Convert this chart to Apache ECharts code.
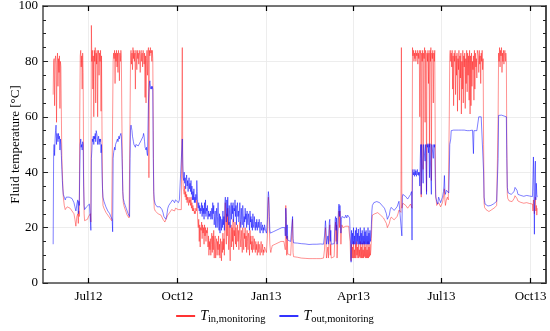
<!DOCTYPE html>
<html><head><meta charset="utf-8">
<script src="https://cdn.jsdelivr.net/npm/echarts@6/dist/echarts.min.js"></script>
<style>html,body{margin:0;padding:0;background:#fff}#c{width:550px;height:331px}</style>
</head><body><div id="c"></div>
<script>
// Day offsets are counted from 2012-05-24. Each row: [day, T_in, T_out]
const startDate = [2012, 4, 24];
const axisRange = [[2012, 4, 15], [2013, 9, 17]];
const tickLabels = ["Jul12", "Oct12", "Jan13", "Apr13", "Jul13", "Oct13"];
const tickDates = [[2012, 6, 1], [2012, 9, 1], [2013, 0, 1], [2013, 3, 1], [2013, 6, 1], [2013, 9, 1]];
const seriesNames = ["in,monitoring", "out,monitoring"];

const summer2012 = [
[1.5,68,14],[2,80,47],[2.5,81,50],[3,64,46],[3.5,80,52],[4,82,55],[4.5,79,57],[5,58,50],[5.5,80,54],[6,83,53],[6.5,71,51],[7,81,54],[7.5,76,52],[8,82,53],[8.5,63,48],[9,80,52],[9.5,78,50],[10,60,46],[10.5,45,41],[11,40,37],[11.5,35,34],[12,31,32],[13,28,31],[14,26.5,30],[15,27,31],[16,27.5,31],[17,27,31.5],[18,27.5,31],[19,27,31.5],[20,26.5,31],[21,26,30.5],[22,26.5,30],[23,25,29],[24,23,27.5],[25,20.5,26],[25.5,21,27],[26,24,28.5],[27,25,30],[27.5,21.5,25],[28,26,29.5],[28.5,24,28],
[29,60,40],[29.5,82,50],[30,84,52],[30.5,78,49],[31,82,50],[31.5,70,48],[32,83,51],[32.5,76,50],[33,40,35],[33.5,25,28],[34,22.5,26.5],[35,23,27],[36,22.5,27.5],[37,23,27],[38,24,28],[39,24.5,28.5],[40,25,29],[40.5,22,19],
[41,93,45],[41.5,80,48],[42,84,52],[42.5,70,51],[43,82,53],[43.5,60,50],[44,84,53],[44.5,80,52],[45,85,54],[45.5,65,51],[46,83,55],[46.5,79,54],[47,84,53],[47.5,60,50],[48,82,52],[48.5,84,53],[49,75,50],[49.5,83,52],[50,80,51],[50.5,84,52],[51,62,47],[51.5,82,50],[52,55,40],[52.5,35,34],[53,28,31],[54,27,29.5],[55,26.5,28.5],[56,25.5,27.5],[57,25,27],[58,24.5,26],[59,24,25.5],[60,23.5,25],[61,23,24],[62,22.5,23.5],[62.5,22,23],[63,23,18.5]
];
const autumn2012 = [
[63.5,80,45],[64,83,47],[64.5,81,48],[65,84,49],[65.5,72,48],[66,83,50],[66.5,80,50],[67,84,51],[67.5,78,51],[68,83,52],[68.5,76,51],[69,84,52],[69.5,82,53],[70,73,52],[70.5,83,53],[71,80,53],[71.5,84,54],[72,82,53],[72.5,60,48],[73,45,41],[73.5,33,33],[74,29,30.5],[75,27.5,29],[76,26.5,28],[77,25.5,27],[78,24.5,26],[79,24,25],[80,23.5,24.5],[80.5,23,24],
[81,60,45],[81.5,82,56],[82,84,57],[82.5,79,56],[83,83,55],[83.5,77,53],[84,85,52],[84.5,81,51],[85,84,50],[85.5,80,50],[86,83,50.5],[86.5,70,49],[87,84,50],[87.5,82,50.5],[88,77,50],[88.5,84,50],[89,81,50],[89.5,83,49.5],[90,79,50],[90.5,84,50],[91,82,50.5],[91.5,76,50],[92,83,51],[92.5,84,51.5],[93,80,51],[93.5,83,52],[94,78,52],[94.5,84,53],[95,82,54],[95.5,79,53],[96,83,51],[96.5,67,49],[97,82,48.5],[97.5,65,48],[98,81,49],[98.5,84,47],[99,75,46],[99.5,83,55],[100,85,65],[100.5,38,69],[101,84,72],[101.5,82,73],[102,85,71],[102.5,83,70],[103,84,71],[103.5,80,70],[104,84,71],[104.5,81,70],[105,55,45],[105.5,32,33],
[106,27,30],[107,26,28.5],[108,26,28],[109,25.5,27.5],[110,25,27.5],[111,24.5,27],[112,25,27.5],[113,24.5,27],[114,24,26.5],[115,23,25.5],[116,22.5,24],[117,22,23.5],[118,21.5,23],[119,22.5,24.5],[120,24.5,27],[121,25,28],[122,25.5,28],[123,26,29],[124,26.5,29.5],[125,27,30],[126,26.5,29.5],[127,26,29],[128,27,30],[129,26.5,29.5],[130,27,30],[131,26.5,29],[132,27,30],[133,26,29.5],[134,26.5,30],
[135,85,52],[135.5,40,43],[136,34,38],[136.5,33,37],[137,32,40],[137.5,35,36],[138,31,38],[138.5,33,34],[139,30,37],[139.5,32,39],[140,29,35],[140.5,31,37],[141,30,33],[141.5,28,36],[142,31,38],[142.5,29,34],[143,30,36],[143.5,28,33],[144,31,37],[144.5,27,32],[145,29,35],[145.5,26,30],[146,28,33],[146.5,26,30],[147,27,34],[147.5,25,29],[148,26,31],[148.5,25,29],[149,27,32],[149.5,26,30],[150,30,37],[150.5,27,33],[151,22,28],[151.5,20,27],[152,23,29],[152.5,15,26],[153,21,28],[153.5,13,25],[154,20,27],[154.5,19,26],[155,22,29],[155.5,16,24],[156,21,28],[156.5,18,25],[157,20,27],[157.5,14,23],[158,21,29],[158.5,17,25],[159,20,30],[159.5,15,24],[160,19,27],[160.5,18,26],[161,20,28],[161.5,13,23],[162,17,26],[162.5,10,24],[163,15,25],[163.5,12,24],[164,16,26],[164.5,10,23],[165,14,24],[165.5,18,27],[166,11,23],[166.5,17,29],[167,12,25],[167.5,19,28],[168,9,21],[168.5,15,24],[169,17,26],[169.5,9,20],[170,14,23],[170.5,16,27],[171,10,20],[171.5,15,24],[172,12,29],[172.5,17,22],[173,10,19],[173.5,14,25],[174,9,18],[174.5,16,24],[175,13,22],[175.5,8,19],[176,15,23],[176.5,11,20],[177,18,26],[177.5,12,21],[178,16,24],[178.5,10,19],[179,24,29],[179.5,29,31],[180,20,27],[180.5,14,22],[181,25,30],[181.5,17,24],[182,27,31],[182.5,18,25],[183,12,21],[183.5,22,28],[184,14,24],[184.5,8,20],[185,17,27],[185.5,21,29],[186,13,23],[186.5,20,28],[187,15,25],[187.5,23,29],[188,12,22],[188.5,19,27],[189,17,26],[189.5,22,30],[190,14,24],[190.5,20,28],[191,13,21],[191.5,18,27],[192,21,29],[192.5,15,24],[193,19,26],[193.5,12,22],[194,17,25],[194.5,22,29],[195,16,23],[195.5,13,20],[196,19,27],[196.5,15,23],[197,11,21],[197.5,20,28],[198,17,25],[198.5,12,20],[199,18,24],[199.5,16,22],[200,20,27],[200.5,13,23],[201,17,25],[201.5,11,20],[202,19,26],[202.5,15,22],[203,12,21],[203.5,18,25],[204,16,23],[204.5,10,19],[205,19,26],[205.5,14,22],[206,17,24],[206.5,12,20],[207,15,23],[207.5,11,19],[208,17,25],[208.5,14,21],[209,12,20],[209.5,16,24],[210,13,21],[210.5,11,19],[211,15,22],[211.5,12,20],[212,14,23],[212.5,10,19],[213,13,21],[213.5,15,22],[214,11,20],[214.5,14,23],[215,12,19],[215.5,10,18],[216,13,21],[216.5,15,22],[217,11,19],[217.5,12,20],[218,14,21],[218.5,10,18],[219,12,20],[219.5,11,19],[220,13,21],[221,12,19],[222,11,18]
];
const winter2013 = [
[223,17,23],[223.5,27,30],[224,31,33],[224.5,28,31],[225,20,24],[225.5,14,19],[226,12,18],[226.5,11,17.5],[227,12,18],[228,13.5,18],[229,13.5,18.5],[230,14,18.5],[231,14,19],[232,14,19],[233,14,19],[234,14.5,19],[235,14.5,19.5],[236,14.5,19.5],[237,15,19.5],[238,15,20],[239,15,20],[240,15,20],[241,15.5,20],[241.5,12,17],[242,28,27],[242.5,22,24],[243,10,16],[243.5,17,21],[244,10.5,15.5],[245,10.5,15],[246,10,15],[247,10,15],[248,9.5,15],[248.5,20,22],[249,23,24],[249.5,11,16],[250,9.5,14.5],[251,9.5,14.5],[252,9.5,14.5],[254,9.3,14.4],[256,9.2,14.3],[258,9,14.2],[260,9.1,14],[262,8.9,14.1],[264,8.8,14],[266,8.8,13.9],[268,8.7,14],[270,8.8,14],[272,8.7,13.9],[274,8.8,14],[276,8.7,14],[278,8.8,14.1],[280,8.9,14],[281,9,14],
[282,12,17],[283,20,22.5],[283.5,17,20],[284,9,14],[285,9,14],[285.5,13,17],[286,9,14],[287,19,22],[287.5,21,23],[288,10,15],[288.5,14,19],[289,9,14],[290,9,14],[291,9.2,14],[292,9.5,14.2],[293,20,23],[293.5,22,24],[294,15,19],[294.5,21,23.5],[295,9,14],[295.5,9.5,14],[296,18,22],[296.5,25,27],[297,26,28.5],[297.5,20,24],[298,26,28],[298.5,21,24],[299,14,18],[299.5,19,23],[300,21,24],[301,20,23.5],[302,20.5,24],[303,20,23.5],[304,20.5,24.5],[305,20,23.5],[306,21,24.5],[307,20.5,24],[308,20,23.5],[308.5,15,18],[309,9,14],[309.5,8,7.5],[310,14,19],[310.5,9,14],[311,13,18],[311.5,9,14]
];
const spring2013 = [
[312,15,20],[312.5,9,14],[313,12,17],[313.5,9,14],[314,14,19],[314.5,9,14],[315,15,20],[315.5,10,15],[316,13,18],[316.5,9,14],[317,14,19.5],[317.5,9,14],[318,12,17],[318.5,9.5,14],[319,15,20],[319.5,9,14],[320,13,18],[320.5,9,14],[321,14.5,19],[321.5,9,14],[322,12,17],[322.5,9,14],[323,15,20],[323.5,9.5,14],[324,13,18.5],[324.5,9,14],[325,14,19],[325.5,9,14],[326,12,17],[326.5,9,14],[327,15,20],[327.5,9,14],[328,13,18],[328.5,9.5,14],[329,14,19],[329.5,10,15],[330,12,17],[330.5,16,21],[331,22,26],[331.5,24.5,28],[332,24.8,28.4],[333,25,29],[334,25,29.3],[335,25.3,29.6],[336,25.1,29.4],[337,25.4,29.7],[338,25,29.2],[339,24.8,29],[340,24.5,28.8],[341,24.2,28.3],[342,23.8,27.8],[343,23.5,27.4],[344,23,27],[345,22.8,26.8],[346,21.5,25],[347,20,23],[348,19.8,22.8],[349,21.5,24.5],[350,23,26.5],[351,23.8,27.3],[352,24.2,27.8],[353,23.6,27.2],[354,22.8,26.2],[355,22.2,25.8],[356,23,26.5],[357,24,27.5],[358,25,28.5],[359,26.3,29.5],[360,26.5,30],[361,25.5,29],[361.5,85,29],[362,27,17],[362.5,28,31],[363,28.8,32],[364,29,32.4],[365,28.5,32],[366,28,31.2],[367,27.5,30.8],[368,27,30.3],[369,26.5,30],[370,27.5,31],[371,28.5,32],[372,29,33],[372.5,27,15.5]
];
const summer2013 = [
[373,85,40],[373.5,82,41],[374,84,39],[374.5,80,40],[375,83,38.5],[375.5,81,41],[376,84,39],[376.5,80,40.5],[377,83,38.5],[377.5,82,40],[378,84,41],[378.5,79,39],[379,83,40],[379.5,81,38.8],[380,84,40],[380.5,60,35],[381,82,45],[381.5,84,50],[382,31,32],[382.5,83,50],[383,80,50.3],[383.5,84,50],[384,41,36],[384.5,83,50],[385,81,50.3],[385.5,85,50],[386,58,44],[386.5,84,50],[387,82,50.2],[387.5,33,32],[388,83,50],[388.5,80,49],[389,84,50.3],[389.5,72,47],[390,83,50],[390.5,49,38],[391,84,50.3],[391.5,80,50],[392,85,50.5],[392.5,37,32],[393,83,50],[393.5,81,50],[394,84,50.3],[394.5,65,45],[395,83,50],[395.5,80,49],[396,84,50],[396.5,50,38],[397,32,31],[397.5,30,31.5],[398,28,29.5],[399,27.5,28.5],[400,29,31],[401,28.5,30],[402,27.5,29],[403,28,30],[404,29,31],[405,31,33],[405.5,32,35],[406,34,38.8],[406.5,30,33],[407,28,32],[408,30,33.5],[409,31,34],[410,30,33],[410.5,29.5,32.5],
[411,60,40],[411.5,82,50],[412,84,50.3],[412.5,80,52],[413,83,55],[413.5,78,55.2],[414,84,55],[414.5,70,55.3],[415,82,55],[415.5,64,55.2],[416,83,55],[416.5,80,55.3],[417,84,55],[417.5,68,55],[418,82,55.2],[418.5,75,55],[419,83,55.3],[419.5,62,55],[420,81,55],[420.5,77,55.2],[421,84,55],[421.5,66,55],[422,82,55.3],[422.5,74,55],[423,83,55],[423.5,61,55.2],[424,80,55],[424.5,70,55],[425,84,55.3],[425.5,65,55],[426,82,55],[426.5,78,55.2],[427,83,55],[427.5,63,55],[428,81,55.3],[428.5,72,55],[429,84,55],[429.5,69,55],[430,83,55.2],[430.5,75,55],[431,82,55],[431.5,66,55.3],[432,84,55],[432.5,61,55],[433,82,55],[433.5,64,55],[434,83,55],[434.5,71,55],[435,80,55.2],[435.5,77,55],[436,82,46.7],[436.5,66,55],[437,84,55],[437.5,70,55],[438,83,55.2],[438.5,78,55],[439,81,55],[439.5,74,55],[440,84,55],[441,82,55],[441.5,76,60],[442,84,60.2],[442.5,79,60],[443,82,60],[443.5,72,60.2],[444,83,60],[444.5,80,60],[445,84,60.2],[445.5,77,60],[446,81,59.5],[446.5,50,40],[447,29,31],[447.5,27.3,29.7],[448,27,28.5],[449,26.5,28.2],[450,26.2,28],[451,26,27.8],[452,25.8,27.6],[453,26,27.8],[454,26.3,28],[455,26.5,28.2],[456,26.8,28.4],[457,27,28.6],[458,27.2,28.8],[459,27.5,29],[460,28,29.5],[461,27.8,30]
];
const autumn2013 = [
[461.5,60,45],[462,83,60.5],[462.5,80,60.6],[463,85,60.5],[463.5,78,60.6],[464,84,60.5],[464.5,82,60.4],[465,85,60.6],[465.5,76,60.5],[466,83,60.4],[466.5,80,60.6],[467,84,60.5],[467.5,79,60.3],[468,82,60.5],[468.5,84,60.4],[469,80,60.2],[469.5,83,60.3],[470,81,60],[470.5,50,45],[471,32,34.5],[471.5,30.5,33.3],[472,29.8,32.5],[473,29.6,32],[474,29.5,31.9],[475,29.6,32],[476,29.4,31.8],[477,29.8,32.2],[478,30.5,33],[479,31.5,34.5],[480,32,35],[481,30.5,33.5],[482,29.6,32],[483,29.2,31.6],[484,29,31.5],[485,29.1,31.6],[486,28.9,31.4],[487,29,31.5],[488,28.8,31.3],[489,29,31.5],[490,28.9,31.4],[491,29,31.6],[492,28.8,31.3],[493,29,31.5],[494,28.7,31.4],[495,29,31.5],[496,28.6,31.3],[497,28.5,31.2],[497.5,26,38],[498,30,45.5],[498.5,27,33],[499,25,17.6],[499.5,29,40],[500,31,44],[500.5,26,30],[501,28,36],[501.5,24.5,32],[502,27,31]
];

const DAY = 86400000;
const ts = a => Date.UTC(a[0], a[1], a[2]);
const base = ts(startDate);
const toDay = a => (ts(a) - base) / DAY;   // calendar date -> day offset on the axis
const rows = [].concat(summer2012, autumn2012, winter2013, spring2013, summer2013, autumn2013);
const inData = rows.map(r => [r[0], r[1]]);
const outData = rows.map(r => [r[0], r[2]]);
const tickVals = tickDates.map(toDay);
const fmt = v => { const i = tickVals.indexOf(v); return i >= 0 ? tickLabels[i] : ''; };

const serif = '"Liberation Serif","Times New Roman",serif';
const axisCol = '#4a4a4a';
const chart = echarts.init(document.getElementById('c'), null, {renderer: 'canvas'});
chart.setOption({
  animation: false,
  backgroundColor: '#fff',
  grid: {left: 43, right: 4, top: 6, bottom: 48, containLabel: false, outerBoundsMode: 'none'},
  legend: {
    show: true, left: 'center', bottom: 1, itemWidth: 19, itemHeight: 1.6, itemGap: 14,
    icon: 'rect',
    formatter: n => '{t|T}{s|' + n + '}',
    textStyle: {
      fontFamily: serif, color: '#000',
      rich: {
        t: {fontFamily: serif, fontStyle: 'italic', fontSize: 14, color: '#000'},
        s: {fontFamily: serif, fontSize: 10.5, color: '#000', padding: [7, 0, 0, 0]}
      }
    },
    data: [
      {name: seriesNames[0], itemStyle: {color: '#ff0000'}},
      {name: seriesNames[1], itemStyle: {color: '#0000ff'}}
    ]
  },
  xAxis: [{
    type: 'value', min: toDay(axisRange[0]), max: toDay(axisRange[1]),
    axisLine: {onZero: false, lineStyle: {color: axisCol, width: 1.5}},
    axisTick: {inside: true, length: 5, customValues: tickVals, lineStyle: {color: '#000', width: 1.2}},
    axisLabel: {customValues: tickVals, formatter: fmt, fontFamily: serif, fontSize: 13, color: '#000', margin: 7, hideOverlap: false},
    splitLine: {show: true, lineStyle: {color: '#e8e8e8', width: 0.8}}
  }, {
    type: 'value', position: 'top', min: toDay(axisRange[0]), max: toDay(axisRange[1]),
    axisLine: {onZero: false, lineStyle: {color: axisCol, width: 1.5}},
    axisTick: {inside: true, length: 5, customValues: tickVals, lineStyle: {color: '#000', width: 1.2}},
    axisLabel: {show: false}, splitLine: {show: false}
  }],
  yAxis: [{
    type: 'value', min: 0, max: 100, interval: 20,
    name: 'Fluid temperature [°C]', nameLocation: 'middle', nameGap: 21, nameMoveOverlap: false,
    nameTextStyle: {fontFamily: serif, fontSize: 13, color: '#000'},
    axisLine: {show: true, onZero: false, lineStyle: {color: axisCol, width: 1.5}},
    axisTick: {show: true, inside: true, length: 5, lineStyle: {color: '#222'}},
    minorTick: {show: true, splitNumber: 4, length: 3, lineStyle: {color: '#222'}},
    axisLabel: {fontFamily: serif, fontSize: 13, color: '#000', margin: 5},
    splitLine: {show: true, lineStyle: {color: '#e8e8e8', width: 0.8}}
  }, {
    type: 'value', position: 'right', min: 0, max: 100, interval: 20,
    axisLine: {show: true, onZero: false, lineStyle: {color: axisCol, width: 2}},
    axisTick: {show: true, inside: true, length: 5, lineStyle: {color: '#222'}},
    minorTick: {show: true, splitNumber: 4, length: 3, lineStyle: {color: '#222'}},
    axisLabel: {show: false}, splitLine: {show: false}
  }],
  series: [{
    name: seriesNames[0], type: 'line', data: inData, symbol: 'none', showSymbol: false,
    lineStyle: {color: '#ff0000', width: 0.6, opacity: 0.72}, itemStyle: {color: '#ff0000'}, z: 2
  }, {
    name: seriesNames[1], type: 'line', data: outData, symbol: 'none', showSymbol: false,
    lineStyle: {color: '#0000ff', width: 0.7, opacity: 0.72}, itemStyle: {color: '#0000ff'}, z: 3
  }]
});
</script></body></html>
